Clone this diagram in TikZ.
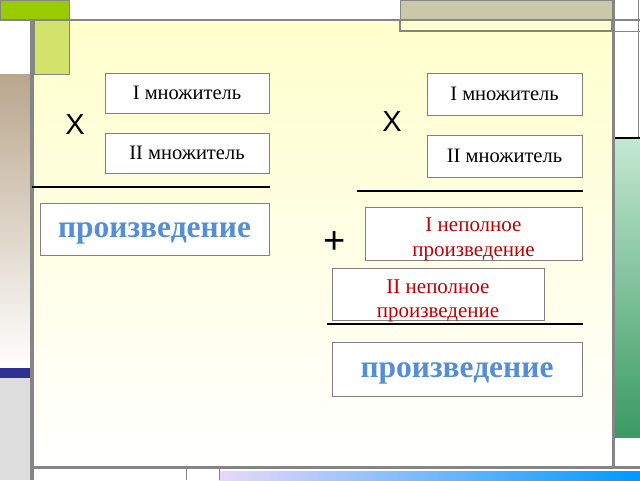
\documentclass[tikz,border=0pt]{standalone}
\usepackage{fontspec}
\setmainfont{Liberation Serif}
\newfontfamily\signfont{Liberation Sans}
\definecolor{framegray}{HTML}{858585}
\definecolor{greenbar}{HTML}{99CC00}
\definecolor{lightgreen}{HTML}{D2E36C}
\definecolor{tanc}{HTML}{B9A68C}
\definecolor{darkblue}{HTML}{2E3192}
\definecolor{lgray}{HTML}{DDDDDD}
\definecolor{tanbox}{HTML}{C9C9A9}
\definecolor{paleyellow}{HTML}{FFFFCC}
\definecolor{greentop}{HTML}{C4E8D2}
\definecolor{greenbot}{HTML}{3A9A62}
\definecolor{lavender}{HTML}{E8D8F8}
\definecolor{brightblue}{HTML}{0099FF}
\definecolor{prodblue}{HTML}{558ED5}
\definecolor{partred}{HTML}{C00000}
\definecolor{boxgray}{HTML}{808080}
\tikzset{
  termbox/.style={draw=boxgray, line width=0.9pt, fill=white, inner sep=0pt, align=center},
  factor/.style={termbox, font=\fontsize{20.5}{22}\selectfont},
  partialtext/.style={inner sep=0pt, align=center, font=\fontsize{21}{24.5}\selectfont, text=partred},
  producttext/.style={inner sep=0pt, font=\fontsize{31.5}{34}\selectfont\bfseries, text=prodblue},
  sign/.style={inner sep=0pt, font=\signfont\fontsize{29}{29}\selectfont},
  rule/.style={line width=2.2pt, black},
  frameline/.style={framegray, line width=3pt},
  thinline/.style={framegray, line width=1pt}
}
\begin{document}
\begin{tikzpicture}[x=1pt,y=-1pt]
\useasboundingbox (0,0) rectangle (640,480);
\fill[white] (0,0) rectangle (640,480);
% main area
\shade[top color=paleyellow, bottom color=white] (34,21) rectangle (612,467);
% top-left decorations
\fill[greenbar, draw=framegray, line width=1pt] (0,0) rectangle (69,20);
\fill[lightgreen, draw=framegray, line width=1pt] (34,20) rectangle (69,74);
\shade[top color=tanc, bottom color=white] (0,74) rectangle (30,368);
\fill[darkblue] (0,368) rectangle (30,378);
\fill[lgray] (0,378) rectangle (30,480);
% top right decorations
\fill[tanbox, draw=framegray, line width=1pt] (400,0) rectangle (612,20);
\draw[thinline, line width=1.2pt] (400,20) rectangle (612,31);
\draw[thinline] (612,31) -- (640,31);
\draw[thinline] (638,0) -- (638,138);
% right green bar
\shade[top color=greentop, bottom color=greenbot] (614,138) rectangle (640,437);
\draw[black, line width=1.2pt] (612,138) -- (640,138);
% bottom
\shade[left color=lavender, right color=brightblue] (219,471) rectangle (640,480);
\draw[thinline] (186,468) -- (186,480);
\draw[thinline] (219,468) -- (219,480);
% frame lines
\draw[frameline, line width=2pt] (0,20) -- (640,20);
\draw[frameline, line width=4pt] (32,20) -- (32,480);
\draw[frameline] (613,0) -- (613,468);
\draw[frameline] (34,467) -- (640,467);

% left column
\node[factor, minimum width=164pt, minimum height=40pt] (lf1) at (187,93) {I множитель};
\node[factor, minimum width=164pt, minimum height=40pt] (lf2) at (187,153) {II множитель};
\node[sign] (ltimes) at (75,125) {X};
\coordinate (lr1) at (32,187);
\coordinate (lr2) at (270,187);
\draw[rule] (lr1) -- (lr2);
\node[termbox, minimum width=229pt, minimum height=52pt] (lprod) at (154.5,229) {};
\node[producttext] (lprodtext) at ([yshift=-4.5pt]lprod.center) {произведение};

% right column
\node[factor, minimum width=155pt, minimum height=42pt] (rf1) at (504.5,94) {I множитель};
\node[factor, minimum width=155pt, minimum height=42pt] (rf2) at (504.5,156) {II множитель};
\node[sign] (rtimes) at (392,122) {X};
\coordinate (rr1) at (357,191);
\coordinate (rr2) at (583,191);
\draw[rule] (rr1) -- (rr2);
\node[termbox, minimum width=217pt, minimum height=53pt] (p1) at (473.5,233.5) {};
\node[partialtext] (p1text) at ([yshift=-6pt]p1.center) {I неполное\\произведение};
\node[sign, font=\signfont\fontsize{38}{38}\selectfont] (plus) at (335,243) {+};
\node[termbox, minimum width=212pt, minimum height=52pt] (p2) at (438,294) {};
\node[partialtext] (p2text) at ([yshift=-7pt]p2.center) {II неполное\\произведение};
\coordinate (rr3) at (327,324);
\coordinate (rr4) at (583,324);
\draw[rule] (rr3) -- (rr4);
\node[termbox, minimum width=250pt, minimum height=54pt] (rprod) at (457,369) {};
\node[producttext] (rprodtext) at ([yshift=-4.5pt]rprod.center) {произведение};
\end{tikzpicture}
\end{document}
